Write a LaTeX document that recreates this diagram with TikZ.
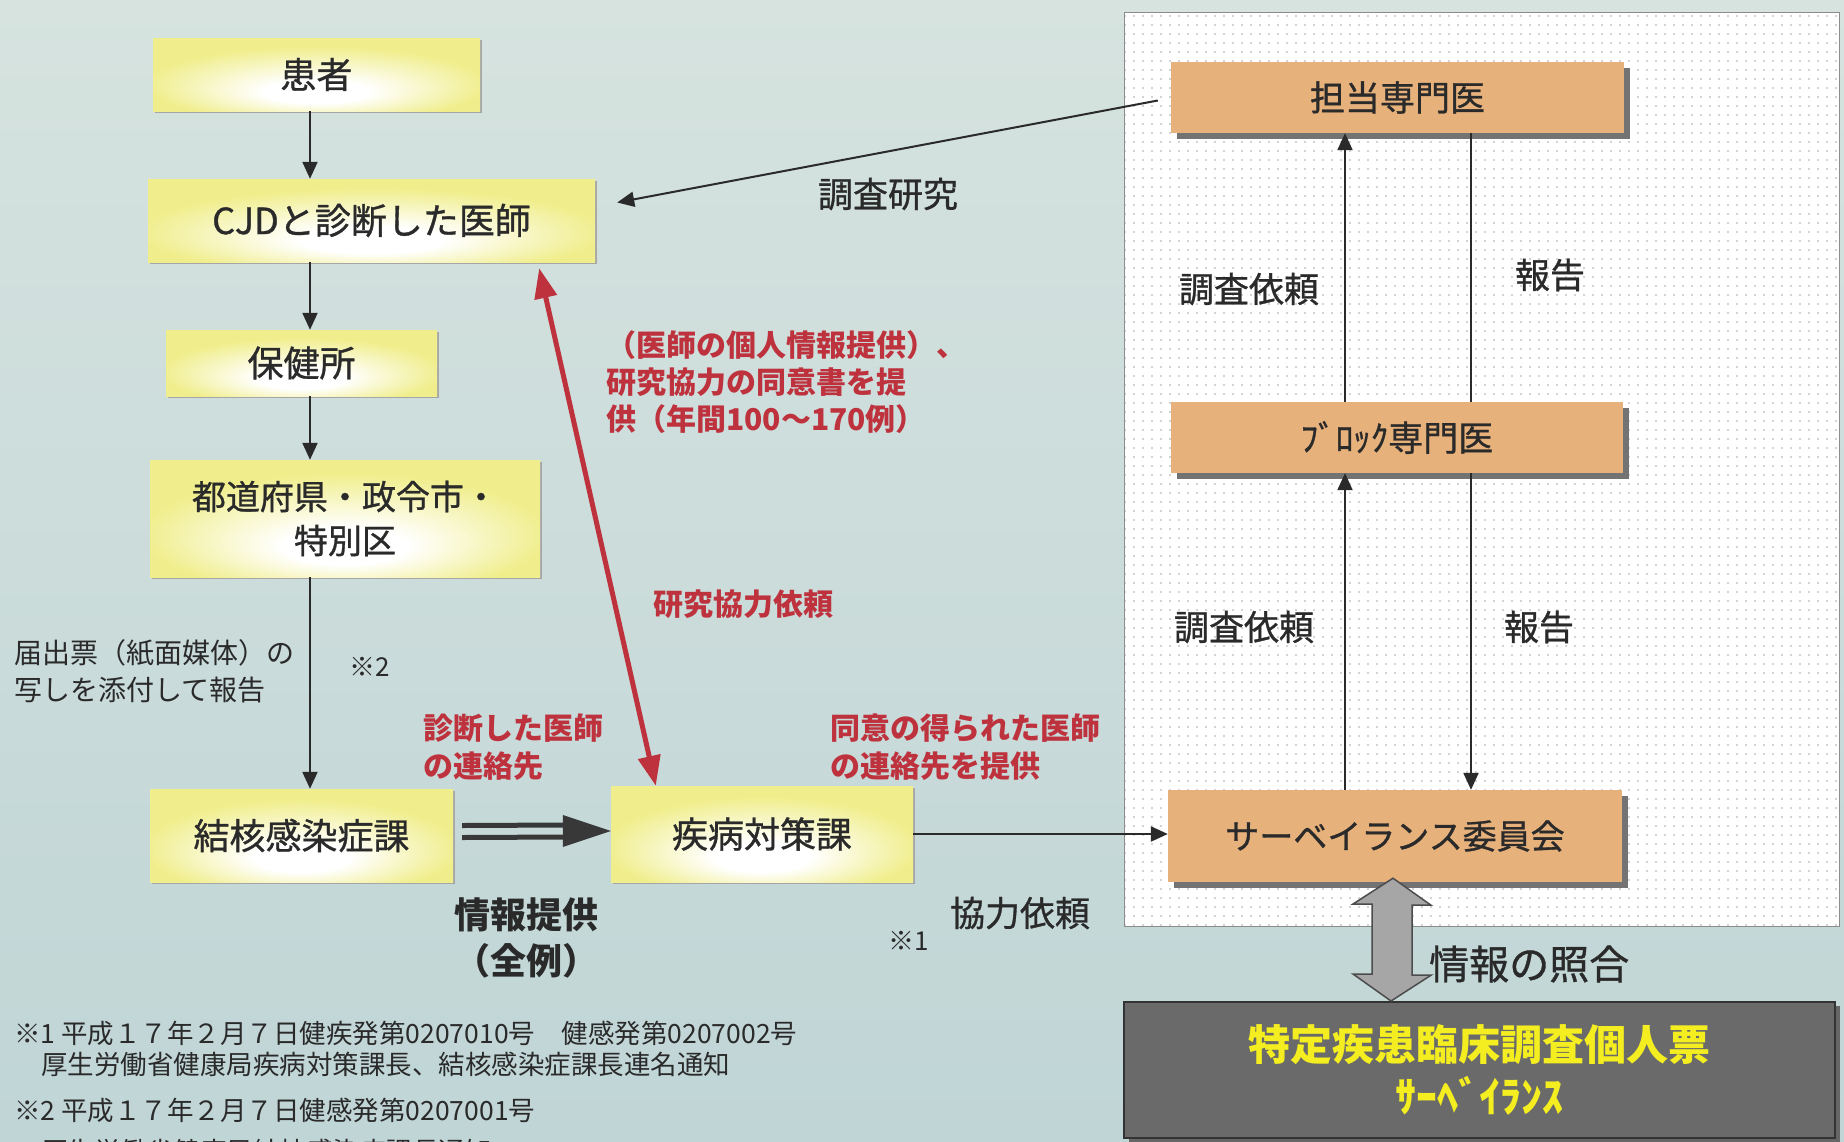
\documentclass[tikz,border=0pt]{standalone}
\usepackage{fontspec}
\setmainfont{Noto Sans CJK JP}
\newfontfamily\mfont{Noto Sans CJK JP}[BoldFont={Noto Sans CJK JP}, BoldFeatures={FakeBold=0.9}]
\usetikzlibrary{arrows.meta,shadows,patterns.meta,calc}

\definecolor{bgtop}{RGB}{214,227,223}
\definecolor{bgbot}{RGB}{192,213,214}
\definecolor{ybox}{RGB}{240,238,140}
\definecolor{obox}{RGB}{231,177,124}
\definecolor{txt}{RGB}{42,42,42}
\definecolor{redc}{RGB}{190,50,62}
\definecolor{darkb}{RGB}{106,106,106}
\definecolor{yel}{RGB}{244,238,32}
\pgfdeclareradialshading{glow}{\pgfpoint{0bp}{-14bp}}{color(0bp)=(white); color(8bp)=(white); color(26bp)=(ybox); color(50bp)=(ybox)}
\newcommand\fsz[1]{\fontsize{#1}{#1}\selectfont}

\tikzset{
  ybx/.style={shading=glow, draw=none, text=txt, font=\mfont\bfseries\fsz{36},
    drop shadow={shadow xshift=2pt, shadow yshift=-2pt, fill=black!35, opacity=1}},
  obx/.style={fill=obox, draw=none, text=txt, font=\mfont\bfseries\fsz{35},
    drop shadow={shadow xshift=6pt, shadow yshift=-6pt, fill=black!55, opacity=1}},
  arr/.style={draw=txt, line width=2.2pt, -{Triangle[length=17pt,width=15pt]}},
  plain/.style={draw=txt, line width=2.2pt},
  lbl/.style={text=txt, font=\mfont\bfseries\fsz{35}, inner sep=0pt},
  rlbl/.style={text=redc, font=\bfseries\fsz{30}, inner sep=0pt, align=left},
  redarr/.style={draw=redc, line width=5pt, {Triangle[length=30pt,width=22pt]}-{Triangle[length=30pt,width=22pt]}},
  foot/.style={text=txt, font=\fsz{26.5}, inner sep=0pt, anchor=west}
}

\begin{document}
\begin{tikzpicture}[x=1pt,y=-1pt]
\useasboundingbox (0,0) rectangle (1844,1141);
\clip (0,0) rectangle (1844,1141);
\shade[top color=bgtop, bottom color=bgbot] (0,0) rectangle (1844,1141);

% dotted panel
\fill[white] (1124,12) rectangle (1839,926);
\fill[pattern={Dots[distance=9pt,radius=0.8pt]}, pattern color=black!35] (1124,12) rectangle (1839,926);
\draw[black!45, line width=1pt] (1124,12) rectangle (1839,926);

% left column boxes
\node[ybx, minimum width=327pt, minimum height=73pt] (kanja) at (316.5,74.5) {患者};
\node[ybx, minimum width=447pt, minimum height=83pt] (cjd) at (371.5,220.5) {CJDと診断した医師};
\node[ybx, minimum width=271pt, minimum height=66pt] (hoken) at (301.5,363) {保健所};
\node[ybx, minimum width=390pt, minimum height=117pt, align=center, font=\mfont\bfseries\fontsize{34}{44}\selectfont] (todo) at (345,518.5) {都道府県・政令市・\\特別区};
\node[ybx, minimum width=303pt, minimum height=93pt] (kekkaku) at (301.5,835.5) {結核感染症課};
\node[ybx, minimum width=302pt, minimum height=96pt] (shippei) at (762,834) {疾病対策課};

% right column boxes
\node[obx, minimum width=453pt, minimum height=71pt] (tanto) at (1397.5,97.5) {担当専門医};
\node[obx, minimum width=452pt, minimum height=71pt] (block) at (1397,437.5) {ﾌﾞﾛｯｸ専門医};
\node[obx, minimum width=454pt, minimum height=92pt, font=\mfont\bfseries\fsz{34}] (survey) at (1395,836) {サーベイランス委員会};

% dark box
\node[fill=darkb, draw=black!80, line width=2pt, minimum width=711pt, minimum height=136pt,
  text=yel, align=center, font=\bfseries\fontsize{42}{52}\selectfont,
  drop shadow={shadow xshift=5pt, shadow yshift=-4pt, fill=black!60, opacity=1}] (kojin) at (1479.5,1070)
  {特定疾患臨床調査個人票\\{\fsz{42}ｻｰﾍﾞｲﾗﾝｽ}};

% left column arrows
\coordinate (ax) at (310,0);
\draw[arr] (kanja.south -| ax) -- (cjd.north -| ax);
\draw[arr] (cjd.south -| ax) -- (hoken.north -| ax);
\draw[arr] (hoken.south -| ax) -- (todo.north -| ax);
\draw[arr] (todo.south -| ax) -- (kekkaku.north -| ax);

% double-line arrow kekkaku -> shippei
\coordinate (d1) at ($(kekkaku.east)+(9,-4)$);
\coordinate (d2) at ($(shippei.west)+(0,-3)$);
\draw[line width=5pt, draw=black!78] ($(d1)+(0,-6)$) -- ($(d2)+(-44,-6)$);
\draw[line width=5pt, draw=black!78] ($(d1)+(0,6)$) -- ($(d2)+(-44,6)$);
\fill[black!78] (d2) -- ++(-48,-16) -- ++(0,32) -- cycle;

% shippei -> survey
\draw[arr, line width=2pt] (shippei.east) -- (shippei.east -| survey.west);

% tanto -> cjd
\draw[arr, line width=2pt] ($(tanto.west)+(-13,3)$) -- ($(cjd.east)+(22,-18)$);

% red double arrow
\draw[redarr] ($(cjd.south east)+(-56,6)$) -- ($(shippei.north west)+(45,0)$);

% panel arrows
\coordinate (pl) at (1345,0);
\coordinate (pr) at (1471,0);
\draw[arr] (block.north -| pl) -- (tanto.south -| pl);
\draw[plain] (tanto.south -| pr) -- (block.north -| pr);
\draw[arr] (survey.north -| pl) -- (block.south -| pl);
\draw[arr] (block.south -| pr) -- (survey.north -| pr);

% gray double arrow survey <-> kojin
\draw[fill=black!35, draw=black!70, line width=1.5pt, line join=miter]
  ($(survey.south)+(-2,-4)$) -- ++(38,27) -- ++(-19,0) -- ++(0,70) -- ++(19,0)
  -- ($(kojin.north)+(-88.5,0)$) -- ++(-38,-27) -- ++(19,0) -- ++(0,-70) -- ++(-19,0) -- cycle;

% labels
\node[lbl] (l1) at (888,194) {調査研究};
\node[lbl] (l2) at (1249,289) {調査依頼};
\node[lbl] (l3) at (1550,275) {報告};
\node[lbl] (l4) at (1244,627) {調査依頼};
\node[lbl] (l5) at (1539,627) {報告};
\node[rlbl, anchor=west, font=\bfseries\fontsize{30}{37}\selectfont] (r1) at (606,382)
  {（医師の個人情報提供）、\\研究協力の同意書を提\\供（年間100～170例）};
\node[rlbl] (r2) at (743,604) {研究協力依頼};
\node[lbl, anchor=west, align=left, font=\fontsize{28}{37}\selectfont] (l6) at (14,671.5)
  {届出票（紙面媒体）の\\写しを添付して報告};
\node[lbl, font=\fsz{26}] (n2) at (370,667) {※2};
\node[rlbl, anchor=west, font=\bfseries\fontsize{30}{38}\selectfont] (r3) at (423,747) {診断した医師\\の連絡先};
\node[rlbl, anchor=west, font=\bfseries\fontsize{30}{38}\selectfont] (r4) at (830,747) {同意の得られた医師\\の連絡先を提供};
\node[lbl, align=center, font=\bfseries\fontsize{36}{46}\selectfont] (l7) at (526,938) {情報提供\\（全例）};
\node[lbl, font=\fsz{26}] (n1) at (909,941) {※1};
\node[lbl] (l8) at (1020,913) {協力依頼};
\node[lbl, anchor=west, font=\mfont\bfseries\fsz{40}] (l9) at (1429,964) {情報の照合};

% footnotes
\node[foot] (f1) at (14,1033) {※1 平成１７年２月７日健疾発第0207010号　健感発第0207002号};
\node[foot] (f2) at (41,1064) {厚生労働省健康局疾病対策課長、結核感染症課長連名通知};
\node[foot] (f3) at (14,1110) {※2 平成１７年２月７日健感発第0207001号};
\node[foot] (f4) at (41,1151) {厚生労働省健康局結核感染症課長通知};
\end{tikzpicture}
\end{document}
